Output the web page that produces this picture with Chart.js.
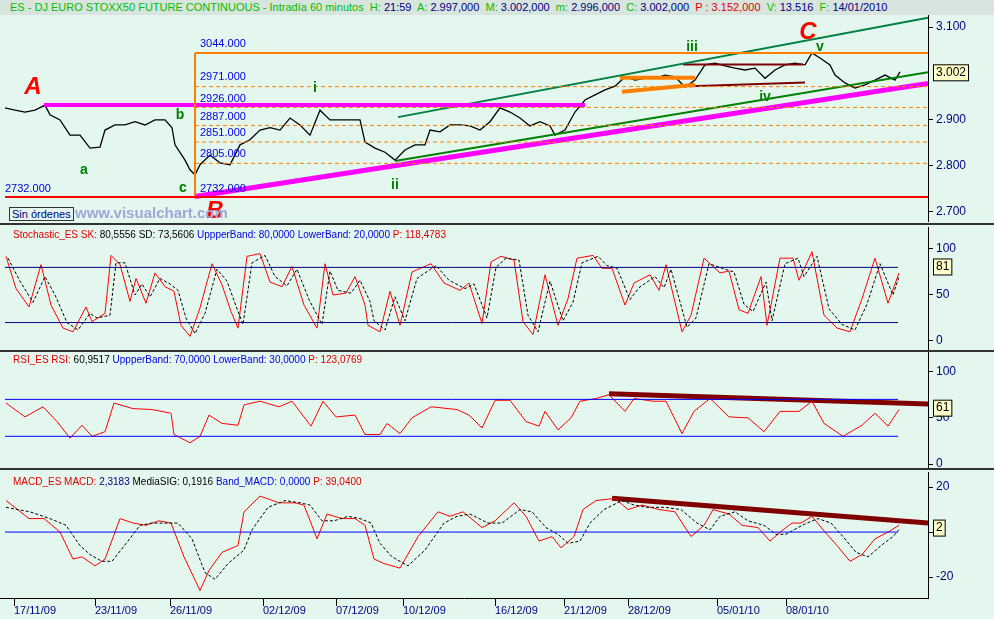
<!DOCTYPE html>
<html>
<head>
<meta charset="utf-8">
<script src="https://cdn.jsdelivr.net/npm/chart.js@4"></script>
<style>
  body { margin: 0; background: #e3f7ef; font-family: "Liberation Sans", Arial, sans-serif; }
  #wrap { position: relative; width: 994px; height: 619px; overflow: hidden; background: #e3f7ef; }
  canvas { position: absolute; left: 0; }
  .bar { position: absolute; left: 0; width: 994px; font-size: 11px; white-space: nowrap; }
  .sep { position: absolute; left: 0; width: 994px; height: 2px; background: #333; }
  .g { color: #00c000; } .n { color: #000080; } .r { color: #e00000; } .b { color: #0000e0; } .k { color: #000; }
</style>
</head>
<body>
<div id="wrap">
  <div class="bar" style="top:0;height:15px;background:#d8e4de;line-height:15px;padding-left:10px;">
    <span class="g">ES - DJ EURO STOXX50 FUTURE CONTINUOUS - Intradía 60 minutos&nbsp; H:</span> <span class="n">21:59</span>&nbsp;
    <span class="g">A:</span> <span class="n">2.997,000</span>&nbsp; <span class="g">M:</span> <span class="n">3.002,000</span>&nbsp;
    <span class="g">m:</span> <span class="n">2.996,000</span>&nbsp; <span class="g">C:</span> <span class="n">3.002,000</span>&nbsp;
    <span class="r">P : 3.152,000</span>&nbsp; <span class="g">V:</span> <span class="n">13.516</span>&nbsp; <span class="g">F:</span> <span class="n">14/01/2010</span>
  </div>
  <canvas id="price" width="994" height="207" style="top:15px"></canvas>
  <div style="position:absolute;left:9px;top:207px;font-size:11px;border:1px solid #333;background:#e3f7ef;color:#000080;padding:0 2px;">Sin órdenes</div>
  <div style="position:absolute;left:75px;top:204px;font-size:15px;font-weight:bold;color:#a0a8d8;">www.visualchart.com</div>
  <div class="sep" style="top:223px"></div>
  <canvas id="stoch" width="994" height="123" style="top:227px"></canvas>
  <div class="bar" style="top:229px;padding-left:13px;font-size:10px;">
    <span class="r">Stochastic_ES SK:</span> <span class="k">80,5556</span> <span class="k">SD: 73,5606</span>
    <span class="b">UppperBand: 80,0000</span> <span class="b">LowerBand: 20,0000</span> <span class="r">P: 118,4783</span>
  </div>
  <div class="sep" style="top:350px"></div>
  <canvas id="rsi" width="994" height="116" style="top:352px"></canvas>
  <div class="bar" style="top:354px;padding-left:13px;font-size:10px;">
    <span class="r">RSI_ES RSI:</span> <span class="k">60,9517</span>
    <span class="b">UppperBand: 70,0000</span> <span class="b">LowerBand: 30,0000</span> <span class="r">P: 123,0769</span>
  </div>
  <div class="sep" style="top:468px"></div>
  <canvas id="macd" width="994" height="147" style="top:472px"></canvas>
  <div class="bar" style="top:476px;padding-left:13px;font-size:10px;">
    <span class="r">MACD_ES MACD:</span> <span class="n">2,3183</span> <span class="k">MediaSIG: 0,1916</span>
    <span class="b">Band_MACD: 0,0000</span> <span class="r">P: 39,0400</span>
  </div>
</div>
<script>
// precio (cierre aproximado), x = posición de la barra
const priceX = [5,15,25,35,45,50,60,70,80,90,100,105,115,125,135,145,155,165,172,175,185,190,195,200,210,220,230,240,250,260,270,280,290,300,310,320,330,340,350,360,365,375,385,395,405,415,425,430,440,450,460,470,480,490,500,510,520,530,540,550,555,565,575,585,595,605,615,625,635,645,655,665,675,685,695,705,715,725,735,745,755,765,775,785,795,805,812,820,830,835,845,855,865,875,885,895,900];
const priceClose = [2925,2920,2916,2920,2931,2910,2899,2866,2866,2838,2840,2877,2888,2888,2895,2888,2899,2899,2882,2845,2812,2791,2780,2802,2823,2806,2802,2845,2856,2877,2882,2877,2903,2888,2866,2920,2899,2899,2899,2899,2851,2838,2829,2812,2834,2845,2845,2877,2873,2888,2888,2886,2877,2895,2925,2916,2903,2886,2895,2886,2866,2877,2916,2942,2953,2964,2972,2992,2985,2989,2989,2996,2992,2970,2985,3018,3022,3016,3011,3007,3011,2989,3007,3018,3022,3018,3044,3033,3018,2996,2979,2968,2975,2985,2996,2985,3003];
const priceTicks = [2700,2800,2900,3100];
const fibLevels = [2971,2926,2887,2851,2805];
const fibLabels = ["3044.000","2971.000","2926.000","2887.000","2851.000","2805.000","2732.000"];
const fibLabelPrice = [3063,2992,2944,2905,2871,2825,2750];
const waveLabels = ["a","b","c","i","ii","iii","iv","v"];
const waveX = [84,180,183,315,395,692,765,820];
const wavePrice = [2791,2910,2752,2968,2758,3057,2949,3057];
const bigLabels = ["A","B","C"];
const bigX = [33,215,808];
const bigPrice = [2970,2700,3088];

// estocástico
const stochX = [6,16,29,41,51,63,73,86,92,105,111,120,130,136,146,155,165,174,181,190,200,212,222,231,238,247,260,270,282,292,304,317,325,333,346,355,365,368,380,390,400,412,431,444,460,469,482,491,501,514,523,533,545,558,568,577,593,602,612,625,634,650,659,666,682,691,704,720,729,739,748,761,767,780,793,799,812,824,837,850,862,875,888,899];
const stochK = [92,57,37,83,39,14,10,37,21,30,93,83,43,68,41,74,59,54,17,5,36,84,61,32,14,92,95,64,59,81,39,14,84,50,52,70,39,17,10,54,17,75,84,63,55,63,19,86,92,88,21,7,72,17,46,90,93,79,79,39,63,72,55,83,10,28,90,74,76,34,30,70,17,90,90,66,97,28,14,10,46,90,41,74];
const stochDX = [8,20,33,45,55,67,78,90,97,110,116,125,135,142,150,160,170,178,186,195,205,217,227,236,243,252,265,275,287,297,309,322,330,338,351,360,370,374,385,395,405,417,436,449,465,474,487,496,506,519,528,538,550,563,573,582,598,607,617,630,639,655,664,671,687,696,709,725,734,744,753,766,772,785,798,804,817,829,842,855,867,880,893,899];
const stochD = [90,65,42,70,50,20,12,30,25,28,85,85,50,62,48,68,62,55,25,8,30,78,65,38,18,85,93,70,60,78,45,18,76,55,52,66,43,22,12,48,22,68,82,66,57,62,25,80,90,88,28,10,65,22,42,85,92,82,79,45,58,70,58,78,15,25,84,78,75,40,32,64,22,84,90,70,92,35,18,12,40,84,50,70];
const stochBands = [80,20];

// RSI
const rsiX = [6,25,43,57,70,82,92,105,114,133,152,171,174,190,200,209,222,238,244,260,279,292,311,323,336,355,365,380,387,400,412,431,457,469,482,495,510,526,539,545,558,571,580,596,609,625,634,653,666,682,694,710,729,748,764,780,799,812,824,843,862,875,888,899];
const rsiVal = [66,51,62,46,28,42,30,35,66,60,59,55,32,23,30,53,44,42,64,68,62,68,41,68,51,53,32,32,44,33,50,62,59,53,39,69,69,46,41,57,37,50,68,71,75,57,71,68,68,33,57,71,51,50,35,57,57,68,44,30,42,55,41,59];
const rsiBands = [70,30];

// MACD
const macdX = [6,29,44,60,73,82,95,105,120,133,146,159,171,184,200,209,222,238,244,260,279,295,304,317,327,342,355,365,374,384,400,418,438,450,463,482,495,514,526,539,552,561,574,583,596,615,628,642,659,675,691,704,713,729,742,758,770,780,792,801,812,825,837,850,862,875,888,899];
const macdVal = [14,6,6,0,-12,-11,-15,-12,6,4,3,5,4,-11,-26,-17,-9,-6,9,16,13,13,12,-3,8,6,6,3,-12,-14,-16,-2,9,7,9,2,5,13,7,-4,-2,-7,-2,10,14,15,10,12,10,9,-2,3,10,8,3,2,-4,0,4,4,7,0,-6,-13,-10,-3,0,3];
const sigX = [6,30,50,66,80,90,102,112,128,140,152,165,178,192,205,215,228,244,252,268,285,300,310,322,334,348,360,371,380,392,408,425,444,457,470,488,502,520,532,546,558,568,580,590,604,622,634,648,665,681,697,710,720,735,748,764,776,786,798,807,818,831,843,856,868,881,893,899];
const sigVal = [11,9,6,3,-6,-10,-13,-13,-4,3,4,4,4,-3,-18,-21,-14,-8,1,11,14,13,12,5,5,7,6,4,-5,-11,-15,-8,4,7,8,4,4,10,9,2,-1,-5,-4,4,10,14,12,11,11,10,4,1,7,9,5,3,-1,-1,2,4,6,4,-2,-9,-11,-6,-2,1];

const dateTickX = [14,95,170,263,336,403,495,564,628,717,786];
const dateLabels = ["17/11/09","23/11/09","26/11/09","02/12/09","07/12/09","10/12/09","16/12/09","21/12/09","28/12/09","05/01/10","08/01/10"];

const navy = "#000080";
const pts = (xs, ys) => xs.map((x, i) => ({x: x, y: ys[i]}));
const seg = (x1, y1, x2, y2, color, w, dash) => ({
  data: [{x: x1, y: y1}, {x: x2, y: y2}], borderColor: color, borderWidth: w,
  borderDash: dash || [], pointRadius: 0, fill: false
});

// texto y caja de último valor
const textPlugin = {
  id: "texts",
  afterDatasetsDraw(chart, args, opts) {
    const c = chart.ctx, xs = chart.scales.x, ys = chart.scales.y;
    (opts.items || []).forEach(t => {
      c.save();
      c.font = t.font; c.fillStyle = t.color; c.textAlign = t.align || "center"; c.textBaseline = "middle";
      c.fillText(t.text, xs.getPixelForValue(t.x), ys.getPixelForValue(t.y));
      c.restore();
    });
    if (opts.box) {
      const y = ys.getPixelForValue(opts.box.y), x = chart.chartArea.right + 5;
      c.save();
      c.font = "12px 'Liberation Sans'";
      const w = c.measureText(opts.box.text).width + 5;
      c.fillStyle = "#ffffc8"; c.fillRect(x, y - 8, w, 16);
      c.strokeStyle = "#000"; c.strokeRect(x + 0.5, y - 7.5, w, 16);
      c.fillStyle = "#000"; c.textBaseline = "middle"; c.fillText(opts.box.text, x + 3, y);
      c.restore();
    }
  }
};

function makeChart(id, datasets, ymin, ymax, yticks, fmt, plugOpts, showX) {
  return new Chart(document.getElementById(id), {
    type: "line",
    data: { datasets: datasets },
    plugins: [textPlugin],
    options: {
      responsive: false, animation: false,
      layout: { padding: 0 },
      plugins: { legend: { display: false }, tooltip: { enabled: false }, texts: plugOpts },
      scales: {
        x: {
          type: "linear", min: 0, max: 928, display: true,
          grid: { display: !!showX, drawOnChartArea: false, color: "#000", tickLength: 8 },
          border: { display: !!showX, color: "#000" },
          afterBuildTicks: s => { s.ticks = dateTickX.map(v => ({value: v})); },
          afterFit: s => { s.height = showX ? 21 : 0; s.paddingLeft = 0; s.paddingRight = 0; },
          ticks: { display: !!showX, autoSkip: false, maxRotation: 0, align: "start", color: navy, padding: -2,
                   font: { family: "Liberation Sans", size: 11 },
                   callback: (v) => dateLabels[dateTickX.indexOf(v)] }
        },
        y: {
          position: "right", min: ymin, max: ymax,
          afterFit: s => { s.width = 66; s.paddingTop = 0; s.paddingBottom = 0; },
          afterBuildTicks: s => { s.ticks = yticks.map(v => ({value: v})); },
          grid: { drawOnChartArea: false, color: "#000", tickLength: 5 },
          border: { color: "#000", width: 1 },
          ticks: { color: navy, font: { family: "Liberation Sans", size: 12 }, padding: 3, callback: fmt }
        }
      }
    }
  });
}

// panel de precio
const priceSets = [
  seg(5, 2732, 928, 2732, "#ff0000", 2),
  seg(195, 3044, 928, 3044, "#ff8000", 2),
  seg(195, 2732, 195, 3044, "#ff8000", 2),
  ...fibLevels.map(v => seg(195, v, 928, v, "#ff8000", 1, [4, 3])),
  seg(44, 2931, 585, 2931, "#ff00ff", 4),
  seg(195, 2733, 928, 2978, "#ff00ff", 5),
  seg(398, 2905, 928, 3120, "#008040", 2),
  seg(395, 2810, 928, 3002, "#008000", 2),
  seg(620, 2990, 695, 2990, "#ff8000", 4),
  seg(622, 2960, 695, 2975, "#ff8000", 4),
  seg(683, 3019, 803, 3019, "#800000", 2),
  seg(690, 2972, 805, 2980, "#800000", 2),
  { data: pts(priceX, priceClose), borderColor: "#000", borderWidth: 1.3, pointRadius: 0, tension: 0 }
];
const priceTexts = [
  ...fibLabels.map((t, i) => ({text: t, x: 200, y: fibLabelPrice[i], color: "#0000e0", font: "11px 'Liberation Sans'", align: "left"})),
  {text: "2732.000", x: 5, y: 2750, color: "#0000e0", font: "11px 'Liberation Sans'", align: "left"},
  ...waveLabels.map((t, i) => ({text: t, x: waveX[i], y: wavePrice[i], color: "#008000", font: "bold 14px 'Liberation Sans'"})),
  ...bigLabels.map((t, i) => ({text: t, x: bigX[i], y: bigPrice[i], color: "#ff0000", font: "italic bold 24px 'Liberation Sans'"}))
];
makeChart("price", priceSets, 2678, 3126, priceTicks,
  v => (v / 1000).toFixed(3), { items: priceTexts, box: { y: 3002, text: "3.002" } });

// estocástico
makeChart("stoch", [
  ...stochBands.map(v => seg(5, v, 898, v, "#000080", 1)),
  { data: pts(stochDX, stochD), borderColor: "#000", borderWidth: 1, borderDash: [3, 2], pointRadius: 0 },
  { data: pts(stochX, stochK), borderColor: "#ff0000", borderWidth: 1, pointRadius: 0 }
], -9.8, 123.9, [0, 50, 100], v => v, { items: [], box: { y: 81, text: "81" } });

// RSI
makeChart("rsi", [
  ...rsiBands.map(v => seg(5, v, 898, v, "#0000ff", 1)),
  { data: pts(rsiX, rsiVal), borderColor: "#ff0000", borderWidth: 1, pointRadius: 0 },
  seg(609, 76, 928, 65, "#800000", 5)
], -4.3, 121.3, [0, 50, 100], v => v, { items: [], box: { y: 61, text: "61" } });

// MACD
makeChart("macd", [
  seg(5, 0, 898, 0, "#0000ff", 1),
  { data: pts(sigX, sigVal), borderColor: "#000", borderWidth: 1, borderDash: [3, 2], pointRadius: 0 },
  { data: pts(macdX, macdVal), borderColor: "#ff0000", borderWidth: 1, pointRadius: 0 },
  seg(612, 15, 928, 4, "#800000", 5)
], -29.3, 26.7, [-20, 0, 20], v => v, { items: [], box: { y: 2, text: "2" } }, true);
</script>
</body>
</html>
